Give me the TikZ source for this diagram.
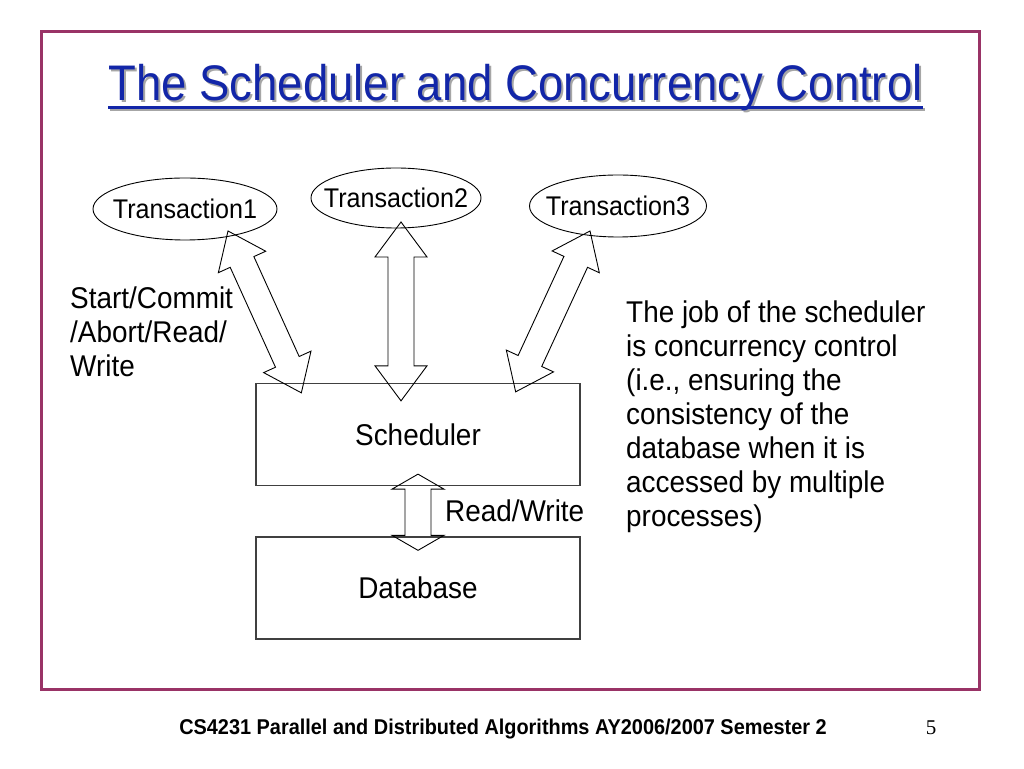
\documentclass[tikz,border=0pt]{standalone}
\usepackage{fontspec}
\setmainfont{Liberation Sans}[FakeStretch=0.93]
\newfontfamily\titlefont{Liberation Sans}[FakeStretch=0.91]
\newfontfamily\pagefont{Liberation Serif}
\usepackage{xcolor}
\usepackage{tikz}
\usetikzlibrary{positioning,calc,shapes.geometric}
\definecolor{ttlblue}{RGB}{18,38,168}
\definecolor{frm}{RGB}{153,51,102}
\tikzset{
  tr/.style={ellipse, draw=black, line width=0.9pt, inner xsep=-12pt, inner ysep=0pt, font=\fontsize{27}{30}\selectfont},
  bx/.style={rectangle, draw=black!75, line width=1.3pt, minimum width=324pt, minimum height=102pt, font=\fontsize{30}{34}\selectfont},
  blk/.style={draw=black, line width=0.9pt, line join=miter},
  lbl/.style={inner sep=0pt, align=left, font=\fontsize{30}{34}\selectfont},
  ttl/.style={inner sep=0pt, anchor=base, font=\titlefont\fontsize{50}{56}\selectfont},
  slide/.style={x=1pt, y=1pt}
}
% double block arrow between two points: tip, tip, head length
\newcommand{\blockarr}[3]{%
  \draw[blk] (#1)
    -- ($(#1)!#3!(#2)!26pt!90:(#2)$)
    -- ($(#1)!#3!(#2)!13pt!90:(#2)$)
    -- ($(#2)!#3!(#1)!13pt!-90:(#1)$)
    -- ($(#2)!#3!(#1)!26pt!-90:(#1)$)
    -- (#2)
    -- ($(#2)!#3!(#1)!26pt!90:(#1)$)
    -- ($(#2)!#3!(#1)!13pt!90:(#1)$)
    -- ($(#1)!#3!(#2)!13pt!-90:(#2)$)
    -- ($(#1)!#3!(#2)!26pt!-90:(#2)$)
    -- cycle;}

\begin{document}
\begin{tikzpicture}[slide]
  \fill[white] (0,0) rectangle (1024,768);
  \useasboundingbox (0,0) rectangle (1024,768);

  % Slide frame
  \draw[frm, line width=3pt] (41,79) rectangle (979,736);

  % Title with shadow and underline
  \node[ttl, text=black!35] (ttlshadow) at (517.5,665) {The Scheduler and Concurrency Control};
  \draw[black!35, line width=3pt] ([shift={(0,-7)}]ttlshadow.base west) -- ([shift={(0,-7)}]ttlshadow.base east);
  \node[ttl, text=ttlblue] (title) at (515.5,667) {The Scheduler and Concurrency Control};
  \draw[ttlblue, line width=3pt] ([shift={(0,-7)}]title.base west) -- ([shift={(0,-7)}]title.base east);

  % Transactions
  \node[tr, minimum width=184pt, minimum height=62pt] (trans1) at (185,559) {Transaction1};
  \node[tr, minimum width=170pt, minimum height=60pt] (trans2) at (396,570) {Transaction2};
  \node[tr, minimum width=177pt, minimum height=62pt] (trans3) at (618,562) {Transaction3};

  % Scheduler and database
  \node[bx] (sched) at (418,333.5) {Scheduler};
  \node[bx] (db) at (418,180) {Database};

  % Arrow ends
  \coordinate (a1t) at ($(trans1.center)+(43,-22)$);
  \coordinate (a1b) at ($(sched.north west)+(46,-10)$);
  \coordinate (a2t) at ($(trans2.center)+(5,-24)$);
  \coordinate (a2b) at ($(sched.north)+(-17,-18)$);
  \coordinate (a3t) at ($(trans3.center)+(-28,-25)$);
  \coordinate (a3b) at ($(sched.north east)+(-65,-9)$);
  \coordinate (a4t) at ($(sched.south)+(0,12)$);
  \coordinate (a4b) at ($(db.north)+(0,-14)$);

  % Block arrows
  \blockarr{a1t}{a1b}{34pt}
  \blockarr{a2t}{a2b}{35pt}
  \blockarr{a3t}{a3b}{34pt}
  \blockarr{a4t}{a4b}{15pt}

  % Labels
  \node[lbl, anchor=west] (ops) at (70,436) {Start/Commit\\/Abort/Read/\\Write};
  \node[lbl, anchor=west] (rw) at (445,257) {Read/Write};
  \node[lbl, anchor=west] (note) at (626,351) {The job of the scheduler\\is concurrency control\\(i.e., ensuring the\\consistency of the\\database when it is\\accessed by multiple\\processes)};

  % Footer
  \node[inner sep=0pt, anchor=base, font=\fontsize{21.4}{24}\selectfont\bfseries] (foot) at (503,34) {CS4231 Parallel and Distributed Algorithms AY2006/2007 Semester 2};
  \node[inner sep=0pt, anchor=base, font=\fontsize{21}{24}\selectfont\pagefont] (pg) at (931,34) {5};
\end{tikzpicture}
\end{document}
